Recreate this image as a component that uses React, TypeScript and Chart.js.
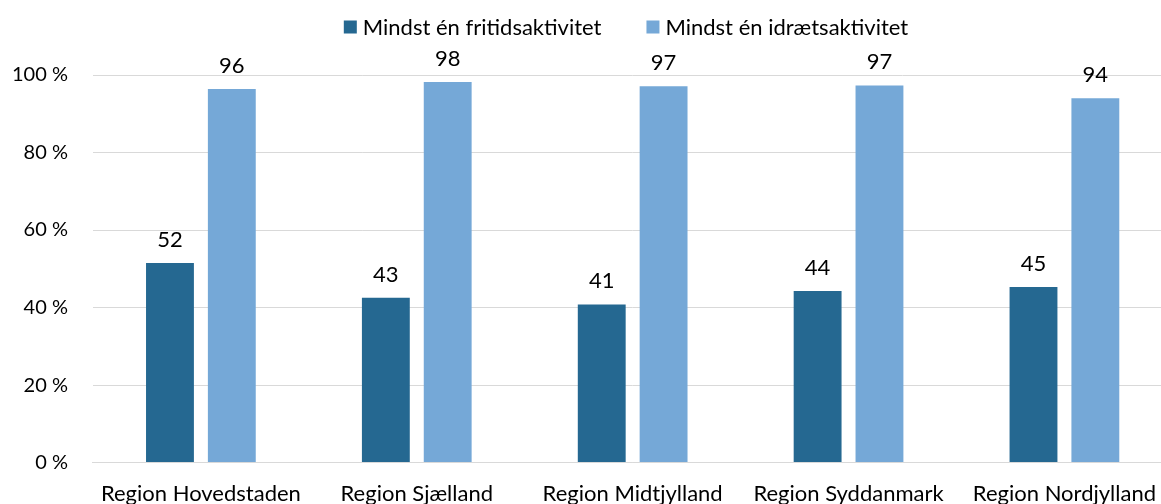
import React, { useEffect, useRef } from "react";
import { Chart, registerables } from "chart.js";

Chart.register(...registerables);

const categories = ["Region Hovedstaden", "Region Sjælland", "Region Midtjylland", "Region Syddanmark", "Region Nordjylland"];
const fritidValues = [51.5, 42.5, 40.8, 44.3, 45.3];
const idraetValues = [96.4, 98.2, 97.1, 97.3, 94.0];
const seriesNames = ["Mindst én fritidsaktivitet", "Mindst én idrætsaktivitet"];
const seriesColors = ["#256891", "#75a8d7"];
const yTicks = [0, 20, 40, 60, 80, 100];

const FONT = "Lato, 'Open Sans', sans-serif";

const labelPlugin = {
  id: "barLabels",
  afterDatasetsDraw(chart: any) {
    const ctx = chart.ctx;
    ctx.save();
    ctx.font = `22px ${FONT}`;
    ctx.fillStyle = "#000";
    ctx.textAlign = "center";
    ctx.textBaseline = "alphabetic";
    chart.data.datasets.forEach((ds: any, di: number) => {
      const meta = chart.getDatasetMeta(di);
      meta.data.forEach((el: any, i: number) => {
        ctx.fillText(String(Math.round(ds.data[i])), el.x, el.y - 16);
      });
    });
    ctx.restore();
  },
};

const legendPlugin = {
  id: "customLegend",
  afterDraw(chart: any) {
    const ctx = chart.ctx;
    ctx.save();
    ctx.font = `22px ${FONT}`;
    ctx.textBaseline = "middle";
    ctx.textAlign = "left";
    const box = 13;
    const gapText = 6;
    const gapItem = 45;
    const widths = seriesNames.map((n) => ctx.measureText(n).width);
    const total = widths.reduce((a, w) => a + box + gapText + w, 0) + gapItem * (seriesNames.length - 1);
    const center = 626;
    let x = center - total / 2;
    const y = 27;
    seriesNames.forEach((n, i) => {
      ctx.fillStyle = seriesColors[i];
      ctx.fillRect(x, y - box / 2, box, box);
      x += box + gapText;
      ctx.fillStyle = "#000";
      ctx.fillText(n, x, y + 1);
      x += widths[i] + gapItem;
    });
    ctx.restore();
  },
};

export default function App() {
  const ref = useRef<HTMLCanvasElement>(null);
  useEffect(() => {
    document.body.style.margin = "0";
    const chart = new Chart(ref.current!, {
      type: "bar",
      data: {
        labels: categories,
        datasets: [
          { label: seriesNames[0], data: fritidValues, backgroundColor: seriesColors[0] },
          { label: seriesNames[1], data: idraetValues, backgroundColor: seriesColors[1] },
        ],
      },
      options: {
        animation: false,
        responsive: true,
        maintainAspectRatio: false,
        datasets: { bar: { categoryPercentage: 0.573, barPercentage: 0.774 } },
        layout: { padding: { top: 75, right: 0, left: -13, bottom: -21 } },
        plugins: {
          legend: { display: false },
          tooltip: { enabled: false },
        },
        scales: {
          x: {
            grid: { display: false, drawTicks: false },
            border: { display: true, color: "#d9d9d9", width: 1 },
            ticks: { font: { family: FONT, size: 22 }, color: "#000", padding: 18, maxRotation: 0, autoSkip: false },
          },
          y: {
            min: 0,
            max: 100,
            afterBuildTicks: (axis: any) => {
              axis.ticks = yTicks.map((v) => ({ value: v }));
            },
            grid: { color: "#d9d9d9", drawTicks: false },
            border: { display: false },
            ticks: {
              font: { family: FONT, size: 20 },
              color: "#000",
              padding: 25,
              callback: (v: any) => `${v} %`,
            },
          },
        },
      },
      plugins: [labelPlugin, legendPlugin],
    });
    return () => chart.destroy();
  }, []);
  return (
    <div style={{ width: 1161, height: 504, overflow: "hidden", position: "relative" }}>
      <div style={{ width: 1174, height: 504, position: "relative" }}>
        <canvas ref={ref} />
      </div>
    </div>
  );
}
